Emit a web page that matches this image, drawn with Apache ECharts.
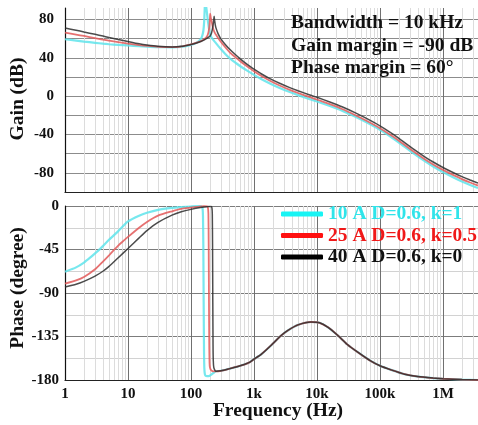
<!DOCTYPE html>
<html>
<head>
<meta charset="utf-8">
<script src="https://cdn.jsdelivr.net/npm/echarts@6/dist/echarts.min.js"></script>
<style>
  html, body { margin: 0; padding: 0; background: #fff; }
  #chart { width: 478px; height: 425px; }
</style>
</head>
<body>
<div id="chart"></div>
<script>
// Loop-gain Bode plot of the converter at three load currents.

const SERIES_NAMES = ['10 A D=0.6, k=1', '25 A D=0.6, k=0.5', '40 A D=0.6, k=0'];
const F_MIN = 1;
const F_MAX = 3.6e6;

const X_TICK_LABELS = { 0: '1', 1: '10', 2: '100', 3: '1k', 4: '10k', 5: '100k', 6: '1M' };
const GAIN_TICK_LABELS = [-80, -40, 0, 40, 80];
const PHASE_TICK_LABELS = [-180, -135, -90, -45, 0];

const ANNOTATIONS = ['Bandwidth = 10 kHz', 'Gain margin = -90 dB', 'Phase margin = 60\u00b0'];

// ---- Gain (dB) ----
const gainFreqK1 = [1, 1.5, 2, 3, 4, 5, 7, 10, 15, 20, 30, 50, 70, 100, 120, 140, 150, 157, 162, 166, 168, 172, 177, 185, 192, 200,
  215, 240, 270, 300, 350, 416, 500, 600, 700, 864, 1000, 1300, 1790, 2500, 3700, 5000, 7700, 10000,
  16000, 25000, 40000, 60000, 100000, 150000, 200000, 337000, 500000, 700000, 1e6, 1.5e6, 2e6, 2.7e6, 3.6e6];
const gainK1 = [59.4, 58, 57, 55.7, 54.8, 54.2, 53.5, 52.9, 52.2, 51.7, 51.2, 51, 51.5, 53.5, 55.5, 59, 62.5, 68, 78, 95, 100, 96, 90, 79, 71.5, 65,
  60.5, 56.6, 52.5, 49, 44, 39.3, 35.2, 31.5, 28.6, 24.8, 22.2, 17.9, 13.2, 8.9, 4.3, 1.1, -3.1, -5.5,
  -10.3, -15.2, -21.3, -27.1, -35.2, -42.7, -48.5, -59.5, -67.3, -73.4, -79.2, -85.2, -89.1, -92.7, -95.9];

const gainFreqK05 = [1, 1.5, 2, 3, 4, 5, 7, 10, 15, 20, 30, 50, 70, 100, 130, 150, 170, 183, 190, 195, 198, 200, 202, 206, 213, 222,
  235, 250, 271, 300, 350, 416, 500, 600, 700, 864, 1000, 1300, 1790, 2500, 3700, 5000, 7700, 10000,
  16000, 25000, 40000, 60000, 100000, 150000, 200000, 337000, 500000, 700000, 1e6, 1.5e6, 2e6, 2.7e6, 3.6e6];
const gainK05 = [66.4, 64.3, 62.8, 60.6, 59, 58, 56.5, 54.9, 53.3, 52.4, 51.5, 51.2, 51.8, 54, 56.3, 58, 60.5, 63.5, 67, 72, 77, 81.5, 86, 82, 78, 72,
  67, 64, 60.5, 56.5, 51, 45.5, 41, 36.7, 33.3, 29, 26, 21.2, 16.1, 11.4, 6.6, 3.3, -1, -3.5,
  -8.4, -13.4, -19.6, -25.4, -33.4, -40.8, -46.5, -57.5, -65.2, -71.2, -76.9, -82.7, -86.5, -90.1, -93.3];

const gainFreqK0 = [1, 1.5, 2, 3, 4, 5, 7, 10, 15, 20, 30, 50, 70, 100, 130, 160, 185, 200, 212, 220, 226, 230, 233, 237, 243, 250,
  270, 300, 350, 416, 500, 600, 700, 864, 1000, 1300, 1790, 2500, 3700, 5000, 7700, 10000,
  16000, 25000, 40000, 60000, 100000, 150000, 200000, 337000, 500000, 700000, 1e6, 1.5e6, 2e6, 2.7e6, 3.6e6];
const gainK0 = [71.1, 68.8, 67, 64.5, 62.7, 61.2, 59.2, 57, 54.6, 53.3, 52, 51.4, 52, 54, 56, 58.5, 61, 62.5, 66, 71, 76, 80, 83.5, 79, 74.5, 71,
  65, 59.5, 54, 48.6, 43.7, 39.2, 35.6, 31.1, 28.2, 23.4, 18.3, 13.7, 8.9, 5.6, 1.3, -1.2,
  -6.1, -11.1, -17.2, -23, -31, -38.4, -44.1, -55, -62.7, -68.7, -74.4, -80.2, -84, -87.5, -90.6];

// ---- Phase (degree) ----
const phaseFreqK1 = [1, 1.5, 2, 2.5, 3, 4, 5, 7, 10, 15, 20, 30, 50, 70, 100, 130, 145, 150,
  153, 155, 157, 159, 161, 163, 166, 170, 180, 195, 210, 230];
const phaseK1 = [-68, -63.5, -58.5, -53.5, -49, -41.5, -35, -26, -16, -10, -7, -4, -2, -1.2, -0.5, -0.1, -0.3, -1,
  -3, -10, -40, -100, -150, -168, -174, -175.5, -176, -175.8, -174.5, -172.5];

const phaseFreqK05 = [1, 1.5, 2, 3, 4, 5, 6, 7, 8, 10, 15, 20, 30, 50, 70, 100, 130, 160, 180, 186,
  189, 191, 193, 195, 197, 200, 210, 230];
const phaseK05 = [-80.4, -77, -73.5, -65.5, -57.5, -51, -45.5, -41, -37.5, -32, -22.5, -16.5, -10, -5.5, -3, -1.7, -0.8, -0.2, -0.3, -2,
  -8, -40, -100, -145, -162, -167, -170, -171];

const phaseFreqK0 = [1, 1.5, 2, 3, 4, 5, 7, 10, 15, 20, 30, 50, 70, 100, 150, 190,
  210, 215, 218, 220, 222, 224, 226, 230, 240];
const phaseK0 = [-83.8, -81, -78, -72.5, -67.5, -62.5, -53.5, -44, -33, -25.5, -17, -9.5, -6, -3.5, -1.4, -0.5,
  -0.5, -2, -8, -40, -100, -145, -160, -167, -170];

// Above the resonance the three phase curves coincide.
const phaseFreqTail = [250, 300, 400, 557, 700, 864, 1000, 1300, 1880, 2700, 3500, 5000, 8000, 11000, 15000, 21500, 30000, 45000,
  70000, 100000, 150000, 246000, 400000, 700000, 1e6, 2e6, 3.6e6];
const phaseTail = [-171, -170.5, -168.5, -166, -164, -161.5, -158.5, -153.5, -144, -134, -128.5, -123, -120, -120.8, -125.5, -134, -143, -151.5,
  -160, -165.3, -169.5, -174, -176.5, -178, -178.7, -179.6, -180];

const LINE_COLORS = ['rgba(95,228,235,0.85)', 'rgba(226,88,88,0.85)', 'rgba(45,45,45,0.85)'];
const LINE_WIDTHS = [2.2, 1.8, 1.5];
const LEGEND_ICON_COLORS = ['#18f4f4', '#ff1010', '#000000'];
const LEGEND_TEXT_COLORS = ['#30e4ea', '#f01818', '#111111'];

const FONT = '"Liberation Serif", "Times New Roman", Times, serif';

function pairs(fs, vs) { return fs.map((f, i) => [f, vs[i]]); }

const gainData = [pairs(gainFreqK1, gainK1), pairs(gainFreqK05, gainK05), pairs(gainFreqK0, gainK0)];
const phaseData = [
  pairs(phaseFreqK1, phaseK1).concat(pairs(phaseFreqTail, phaseTail)),
  pairs(phaseFreqK05, phaseK05).concat(pairs(phaseFreqTail, phaseTail)),
  pairs(phaseFreqK0, phaseK0).concat(pairs(phaseFreqTail, phaseTail))
];

// Light vertical grid at 2..9 within each decade.
const minorFreqs = [];
for (let d = 1; d <= 1e6; d *= 10) {
  for (let m = 2; m <= 9; m++) {
    if (m * d < F_MAX) minorFreqs.push(m * d);
  }
}

function xAxis(gridIndex, showLabels) {
  return {
    type: 'log', logBase: 10, gridIndex, min: F_MIN, max: F_MAX,
    axisLine: { show: true, onZero: false, lineStyle: { color: '#222', width: 1.2 } },
    axisTick: { show: false },
    axisLabel: {
      show: showLabels, showMaxLabel: false, margin: 7,
      fontFamily: FONT, fontWeight: 'bold', fontSize: 15, color: '#111',
      formatter: v => {
        const e = Math.round(Math.log10(v));
        return Math.abs(Math.log10(v) - e) < 1e-6 && X_TICK_LABELS[e] !== undefined ? X_TICK_LABELS[e] : '';
      }
    },
    splitLine: { show: true, showMaxLine: false, lineStyle: { color: '#707070', width: 1 } }
  };
}

function minorGridSeries(xi, yi) {
  return {
    type: 'line', xAxisIndex: xi, yAxisIndex: yi, data: [], silent: true, z: 1,
    markLine: {
      z: 1, silent: true, symbol: ['none', 'none'], animation: false,
      label: { show: false },
      lineStyle: { color: '#dcdcdc', type: 'solid', width: 1 },
      emphasis: { disabled: true },
      data: minorFreqs.map(f => ({ xAxis: f }))
    }
  };
}

const series = [minorGridSeries(0, 0), minorGridSeries(1, 1)];
for (let i = 0; i < 3; i++) {
  series.push({
    name: SERIES_NAMES[i], type: 'line', xAxisIndex: 0, yAxisIndex: 0, data: gainData[i],
    showSymbol: false, symbol: 'none', smooth: 0.2, z: 3 + i,
    lineStyle: { color: LINE_COLORS[i], width: LINE_WIDTHS[i] }, itemStyle: { color: LINE_COLORS[i] }
  });
  series.push({
    name: SERIES_NAMES[i], type: 'line', xAxisIndex: 1, yAxisIndex: 1, data: phaseData[i],
    showSymbol: false, symbol: 'none', smooth: 0.2, z: 3 + i,
    lineStyle: { color: LINE_COLORS[i], width: LINE_WIDTHS[i] }, itemStyle: { color: LINE_COLORS[i] }
  });
}

const labelStyle = { fontFamily: FONT, fontWeight: 'bold', fontSize: 15, color: '#111' };

const option = {
  animation: false,
  backgroundColor: '#ffffff',
  grid: [
    { left: 65, top: 8, width: 413, height: 184 },
    { left: 65, top: 206, width: 413, height: 174 }
  ],
  xAxis: [xAxis(0, false), xAxis(1, true)],
  yAxis: [
    {
      type: 'value', gridIndex: 0, min: -100, max: 92, interval: 20,
      axisLine: { show: true, lineStyle: { color: '#111', width: 1.2 } },
      axisTick: { show: false },
      axisLabel: Object.assign({ margin: 11, showMaxLabel: false,
        formatter: v => (GAIN_TICK_LABELS.includes(v) ? String(v) : '') }, labelStyle),
      splitLine: { show: true, showMaxLine: false, lineStyle: { color: '#8c8c8c', width: 1 } }
    },
    {
      type: 'value', gridIndex: 1, min: -180, max: 0, interval: 22.5,
      axisLine: { show: true, lineStyle: { color: '#111', width: 1.2 } },
      axisTick: { show: false },
      axisLabel: Object.assign({ margin: 6,
        formatter: v => (PHASE_TICK_LABELS.includes(v) ? String(v) : '') }, labelStyle),
      splitLine: { show: true, lineStyle: { color: ['#7c7c7c', '#d2d2d2'], width: 1 } }
    }
  ],
  legend: {
    orient: 'vertical', left: 276, top: 199, itemGap: 1.5, z: 10,
    itemWidth: 42, itemHeight: 5, icon: 'roundRect',
    textStyle: { fontFamily: FONT, fontWeight: 'bold', fontSize: 19.5 },
    data: SERIES_NAMES.map((n, i) => ({
      name: n,
      itemStyle: { color: LEGEND_ICON_COLORS[i] },
      textStyle: { color: LEGEND_TEXT_COLORS[i] }
    })),
    selectedMode: false
  },
  graphic: [
    { type: 'text', x: 18, y: 99, rotation: Math.PI / 2,
      style: { text: 'Gain (dB)', font: 'bold 19.5px ' + FONT, fill: '#111', align: 'center', verticalAlign: 'middle' } },
    { type: 'text', x: 18, y: 288, rotation: Math.PI / 2,
      style: { text: 'Phase (degree)', font: 'bold 19.5px ' + FONT, fill: '#111', align: 'center', verticalAlign: 'middle' } },
    { type: 'text', x: 278, y: 411,
      style: { text: 'Frequency (Hz)', font: 'bold 19.5px ' + FONT, fill: '#111', align: 'center', verticalAlign: 'middle' } },
    ...ANNOTATIONS.map((t, i) => ({
      type: 'text', x: 291, y: 23 + i * 22.5, z: 10,
      style: { text: t, font: 'bold 19.5px ' + FONT, fill: '#111', align: 'left', verticalAlign: 'middle' }
    }))
  ],
  series
};

const chart = echarts.init(document.getElementById('chart'), null, { renderer: 'canvas' });
chart.setOption(option);
</script>
</body>
</html>
